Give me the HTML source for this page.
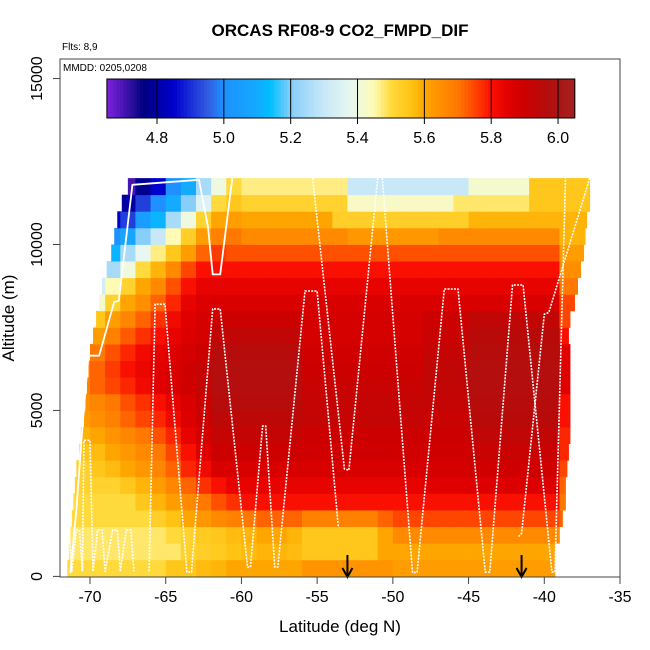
<!DOCTYPE html>
<html><head><meta charset="utf-8"><style>
html,body{margin:0;padding:0;background:#fff;}
svg{display:block;font-family:"Liberation Sans",sans-serif;}
</style></head><body>
<svg id="chart" width="650" height="650" viewBox="0 0 650 650" xmlns="http://www.w3.org/2000/svg">
<rect x="0" y="0" width="650" height="650" fill="#fff"/>
<text x="340" y="36" text-anchor="middle" font-size="17" font-weight="bold">ORCAS RF08-9 CO2_FMPD_DIF</text>
<text x="62" y="50" font-size="10">Flts: 8,9</text>
<g id="heat"></g>
<g id="track"></g>
<g id="cbar"></g>
<rect x="60" y="59" width="560" height="518" fill="none" stroke="#444" stroke-width="1"/>
<text x="63" y="71" font-size="10">MMDD: 0205,0208</text>
<g id="axes"></g>
<text x="340" y="632" text-anchor="middle" font-size="17">Latitude (deg N)</text>
<text transform="translate(14,318) rotate(-90)" text-anchor="middle" font-size="17">Altitude (m)</text>
</svg>
<script>
// ---- data ----
const colLats = [-71.5,-70.5,-69.5,-68.5,-67.5,-66.5,-65.5,-64.5,-63.5,-62.5,-61.5,-60.5,-59.5,-58.5,-57.5,-56.5,-55.5,-54.5,-53.5,-52.5,-51.5,-50.5,-49.5,-48.5,-47.5,-46.5,-45.5,-44.5,-43.5,-42.5,-41.5,-40.5,-39.5,-38.5,-37.5];
const rowAlts = [250,750,1250,1750,2250,2750,3250,3750,4250,4750,5250,5750,6250,6750,7250,7750,8250,8750,9250,9750,10250,10750,11250,11750];
const latStart = [-71.5,-71.4,-71.3,-71.2,-71.1,-71.0,-70.9,-70.7,-70.6,-70.4,-70.3,-70.2,-70.1,-70.0,-69.8,-69.6,-69.4,-69.2,-68.9,-68.6,-68.4,-68.2,-67.9,-67.5];
const latEnd = [-39.3,-39.3,-39.0,-38.8,-38.6,-38.6,-38.5,-38.4,-38.3,-38.3,-38.3,-38.3,-38.3,-38.3,-38.4,-38.3,-38.0,-37.8,-37.6,-37.4,-37.3,-37.2,-37.0,-36.9];
const grid = [
[5.5,5.5,5.5,5.5,5.5,5.5,5.5,5.55,5.55,5.57,5.58,5.6,5.6,5.6,5.6,5.6,5.64,5.64,5.64,5.64,5.64,5.64,5.62,5.62,5.62,5.62,5.62,5.62,5.62,5.62,5.62,5.62,5.62,5.62,5.62],
[5.48,5.48,5.48,5.48,5.48,5.48,5.48,5.48,5.52,5.53,5.54,5.56,5.57,5.58,5.58,5.57,5.55,5.55,5.55,5.55,5.55,5.6,5.6,5.6,5.6,5.6,5.6,5.6,5.6,5.6,5.6,5.6,5.6,5.6,5.6],
[5.48,5.48,5.48,5.48,5.48,5.48,5.48,5.5,5.52,5.54,5.55,5.57,5.58,5.6,5.6,5.58,5.55,5.55,5.55,5.55,5.55,5.6,5.66,5.66,5.66,5.66,5.66,5.66,5.66,5.66,5.66,5.66,5.66,5.66,5.66],
[5.5,5.5,5.5,5.5,5.5,5.5,5.53,5.56,5.6,5.63,5.66,5.68,5.7,5.72,5.72,5.72,5.68,5.68,5.68,5.68,5.68,5.72,5.75,5.75,5.75,5.75,5.75,5.75,5.75,5.75,5.75,5.75,5.75,5.72,5.72],
[5.5,5.5,5.5,5.5,5.5,5.55,5.58,5.62,5.66,5.7,5.74,5.77,5.8,5.8,5.8,5.8,5.8,5.8,5.8,5.8,5.8,5.8,5.8,5.8,5.8,5.8,5.8,5.8,5.8,5.8,5.8,5.8,5.8,5.7,5.7],
[5.52,5.52,5.52,5.52,5.55,5.58,5.62,5.67,5.72,5.77,5.8,5.84,5.84,5.84,5.84,5.84,5.84,5.84,5.84,5.84,5.84,5.84,5.84,5.84,5.85,5.85,5.85,5.86,5.86,5.86,5.86,5.86,5.86,5.72,5.72],
[5.52,5.52,5.55,5.57,5.6,5.63,5.67,5.72,5.78,5.82,5.87,5.87,5.87,5.87,5.87,5.87,5.87,5.87,5.87,5.87,5.87,5.87,5.87,5.87,5.88,5.88,5.88,5.89,5.89,5.89,5.89,5.89,5.89,5.75,5.75],
[5.55,5.55,5.57,5.6,5.63,5.66,5.7,5.75,5.8,5.85,5.9,5.9,5.9,5.9,5.9,5.9,5.89,5.89,5.89,5.89,5.89,5.89,5.89,5.89,5.89,5.89,5.89,5.91,5.91,5.91,5.91,5.91,5.91,5.78,5.78],
[5.58,5.58,5.6,5.64,5.67,5.7,5.74,5.78,5.84,5.88,5.92,5.92,5.92,5.92,5.92,5.92,5.9,5.9,5.9,5.9,5.9,5.9,5.9,5.9,5.9,5.9,5.9,5.93,5.93,5.93,5.93,5.93,5.93,5.78,5.78],
[5.62,5.62,5.65,5.68,5.72,5.75,5.78,5.82,5.86,5.9,5.94,5.94,5.94,5.94,5.94,5.94,5.92,5.92,5.92,5.92,5.92,5.92,5.92,5.92,5.91,5.91,5.91,5.95,5.95,5.95,5.95,5.95,5.95,5.8,5.8],
[5.65,5.65,5.67,5.7,5.74,5.77,5.8,5.84,5.87,5.9,5.96,5.96,5.96,5.96,5.96,5.96,5.92,5.92,5.92,5.92,5.92,5.92,5.92,5.92,5.92,5.92,5.92,5.96,5.96,5.96,5.96,5.96,5.96,5.8,5.8],
[5.68,5.68,5.72,5.75,5.78,5.82,5.85,5.87,5.89,5.92,5.97,5.97,5.97,5.97,5.97,5.97,5.91,5.91,5.91,5.91,5.91,5.91,5.91,5.91,5.93,5.93,5.93,5.97,5.97,5.97,5.97,5.97,5.97,5.85,5.85],
[5.68,5.68,5.72,5.76,5.8,5.83,5.85,5.87,5.89,5.92,5.97,5.97,5.97,5.97,5.97,5.97,5.9,5.9,5.9,5.9,5.9,5.9,5.9,5.9,5.93,5.93,5.93,5.97,5.97,5.97,5.97,5.97,5.97,5.85,5.85],
[5.62,5.62,5.7,5.74,5.78,5.82,5.84,5.86,5.88,5.9,5.96,5.96,5.96,5.96,5.96,5.96,5.89,5.89,5.89,5.89,5.89,5.89,5.89,5.89,5.92,5.92,5.92,5.96,5.96,5.96,5.96,5.96,5.96,5.85,5.85],
[5.6,5.6,5.62,5.68,5.73,5.77,5.8,5.84,5.86,5.88,5.93,5.93,5.93,5.93,5.93,5.93,5.88,5.88,5.88,5.88,5.88,5.88,5.88,5.88,5.91,5.91,5.91,5.95,5.95,5.95,5.95,5.95,5.95,5.8,5.8],
[5.55,5.55,5.55,5.62,5.67,5.72,5.77,5.82,5.85,5.88,5.9,5.9,5.9,5.9,5.9,5.9,5.88,5.88,5.88,5.88,5.88,5.88,5.88,5.88,5.9,5.9,5.9,5.93,5.93,5.93,5.93,5.93,5.93,5.75,5.75],
[5.42,5.42,5.42,5.52,5.6,5.65,5.72,5.78,5.84,5.86,5.87,5.87,5.87,5.87,5.87,5.87,5.87,5.87,5.87,5.87,5.87,5.87,5.87,5.87,5.87,5.87,5.87,5.87,5.87,5.87,5.87,5.87,5.87,5.75,5.75],
[5.32,5.32,5.32,5.45,5.52,5.6,5.66,5.74,5.8,5.84,5.84,5.84,5.84,5.84,5.84,5.84,5.84,5.84,5.84,5.84,5.84,5.84,5.84,5.84,5.84,5.84,5.84,5.84,5.84,5.84,5.84,5.84,5.84,5.7,5.7],
[5.25,5.25,5.25,5.25,5.4,5.5,5.58,5.66,5.75,5.8,5.8,5.8,5.8,5.8,5.8,5.8,5.8,5.8,5.8,5.8,5.8,5.8,5.8,5.8,5.8,5.8,5.8,5.8,5.8,5.8,5.8,5.8,5.8,5.65,5.65],
[5.12,5.12,5.12,5.12,5.25,5.38,5.47,5.55,5.62,5.72,5.76,5.74,5.74,5.74,5.74,5.74,5.74,5.74,5.74,5.74,5.74,5.74,5.74,5.74,5.74,5.74,5.74,5.74,5.74,5.74,5.74,5.74,5.74,5.62,5.62],
[5.0,5.0,5.0,5.0,5.08,5.2,5.3,5.45,5.53,5.62,5.68,5.7,5.66,5.66,5.66,5.66,5.66,5.66,5.66,5.63,5.63,5.63,5.63,5.63,5.63,5.66,5.66,5.66,5.66,5.66,5.66,5.66,5.66,5.58,5.58],
[4.85,4.85,4.85,4.85,4.92,5.05,5.12,5.25,5.4,5.52,5.6,5.62,5.6,5.6,5.6,5.6,5.6,5.6,5.53,5.53,5.53,5.53,5.53,5.53,5.53,5.53,5.53,5.58,5.58,5.58,5.58,5.58,5.58,5.58,5.58],
[4.8,4.8,4.8,4.8,4.8,4.92,5.0,5.1,5.2,5.35,5.5,5.55,5.52,5.52,5.52,5.52,5.52,5.52,5.52,5.43,5.43,5.43,5.43,5.43,5.43,5.43,5.48,5.48,5.48,5.48,5.48,5.55,5.55,5.55,5.55],
[4.7,4.7,4.7,4.7,4.7,4.78,4.85,5.0,5.1,5.25,5.4,5.5,5.47,5.47,5.47,5.47,5.47,5.47,5.47,5.3,5.3,5.3,5.3,5.3,5.3,5.3,5.3,5.42,5.42,5.42,5.42,5.55,5.55,5.55,5.55]
];
const xTicks = [-70,-65,-60,-55,-50,-45,-40,-35];
const yTicks = [0,5000,10000,15000];
const cbTicks = [4.8,5.0,5.2,5.4,5.6,5.8,6.0];
const arrowLats = [-53.0,-41.5];
const solidTrackLat = [-71.3,-70.9,-70.5,-70.1,-69.4,-68.4,-68.1,-67.2,-62.8,-62.2,-61.9,-61.4,-60.6];
const solidTrackAlt = [100,2000,4500,6650,6650,8270,8300,11800,11950,10500,9100,9100,12000];
const dotSeg1Lat = [-71.6,-71.4,-71.2,-70.9,-70.7,-70.5,-70.4,-70.0,-69.8,-69.5,-69.2,-69.0,-68.5,-68.2,-68.0,-67.6,-67.3,-67.1];
const dotSeg1Alt = [150,1400,150,1400,1400,150,4100,4100,150,1400,1400,150,1400,1400,150,1400,1400,150];
const dotSeg2Lat = [-66.1,-65.7,-65.05,-63.6,-63.3,-61.9,-61.4,-59.6,-59.4,-58.6,-58.4,-57.8,-57.6,-55.8,-55.0,-53.6];
const dotSeg2Alt = [150,8200,8200,130,130,8060,8060,280,280,4530,4530,280,280,8600,8600,1500];
const dotSeg3Lat = [-55.3,-53.2,-52.9,-51.0];
const dotSeg3Alt = [12000,3240,3200,12000];
const dotSeg4Lat = [-50.7,-48.7,-48.4,-46.6,-45.7,-43.9,-43.6,-42.1,-41.4,-39.5,-39.3,-38.6];
const dotSeg4Alt = [12000,120,120,8660,8660,130,130,8780,8780,130,130,12000];
const dotSeg5Lat = [-41.7,-41.5,-40.0,-39.7,-37.0];
const dotSeg5Alt = [1200,1300,7900,7950,12000];

// ---- scales ----
const NS = 'http://www.w3.org/2000/svg';
function xs(lat){ return 90 + (lat + 70) * 15.143; }
function ys(alt){ return 576.4 - alt * 0.03319; }
function cbx(v){ return 157 + (v - 4.8) * 334.2; }
const stops = [[4.65,[128,32,224]],[4.72,[48,16,160]],[4.76,[0,0,128]],[4.85,[0,0,205]],[4.95,[50,90,225]],[5.0,[30,144,255]],[5.1,[20,170,255]],[5.14,[0,191,255]],[5.2,[135,206,250]],[5.3,[200,232,248]],[5.38,[232,248,240]],[5.45,[255,250,180]],[5.5,[255,218,60]],[5.56,[255,195,20]],[5.6,[255,165,0]],[5.7,[255,120,0]],[5.75,[255,70,0]],[5.8,[250,16,0]],[5.85,[225,0,0]],[5.9,[205,0,0]],[5.95,[185,10,10]],[6.0,[172,20,20]],[6.05,[165,32,32]]];
function col(v){
  if (v <= stops[0][0]) return 'rgb(' + stops[0][1].join(',') + ')';
  for (let i = 1; i < stops.length; i++) {
    if (v <= stops[i][0]) {
      const t = (v - stops[i-1][0]) / (stops[i][0] - stops[i-1][0]);
      const a = stops[i-1][1], b = stops[i][1];
      return 'rgb(' + a.map((c,k)=>Math.round(c + (b[k]-c)*t)).join(',') + ')';
    }
  }
  return 'rgb(' + stops[stops.length-1][1].join(',') + ')';
}
function mk(tag, attrs, parent){
  const e = document.createElementNS(NS, tag);
  for (const k in attrs) e.setAttribute(k, attrs[k]);
  parent.appendChild(e);
  return e;
}

// ---- heatmap ----
const heat = document.getElementById('heat');
for (let r = 0; r < rowAlts.length; r++) {
  const yTop = ys(rowAlts[r] + 250), yBot = ys(rowAlts[r] - 250);
  for (let c = 0; c < colLats.length; c++) {
    const l = Math.max(colLats[c] - 0.5, latStart[r]);
    const rr = Math.min(colLats[c] + 0.5, latEnd[r]);
    if (rr <= l) continue;
    const e = mk('rect', {x: xs(l).toFixed(2), y: yTop.toFixed(2), width: (xs(rr) - xs(l) + 0.4).toFixed(2), height: (yBot - yTop + 0.4).toFixed(2), fill: col(grid[r][c])}, heat);
    
    
  }
}

// ---- flight track ----
const trk = document.getElementById('track');
function drawLine(lats, alts, dotted, name){
  const pts = lats.map((la,i)=> xs(la).toFixed(1) + ',' + ys(alts[i]).toFixed(1)).join(' ');
  const e = mk('polyline', {points: pts, fill: 'none', stroke: '#fff', 'stroke-width': dotted ? 1.6 : 1.8, 'stroke-dasharray': dotted ? '2,1.2' : 'none', 'stroke-linejoin': 'round'}, trk);
  
  
}
drawLine(solidTrackLat, solidTrackAlt, false, 'track-solid');
drawLine(dotSeg1Lat, dotSeg1Alt, true, 'track-segment-1');
drawLine(dotSeg2Lat, dotSeg2Alt, true, 'track-segment-2');
drawLine(dotSeg3Lat, dotSeg3Alt, true, 'track-segment-3');
drawLine(dotSeg4Lat, dotSeg4Alt, true, 'track-segment-4');
drawLine(dotSeg5Lat, dotSeg5Alt, true, 'track-segment-5');

// ---- arrows ----
arrowLats.forEach(la => {
  const x = xs(la);
  const g = mk('g', {}, trk);
  
  
  mk('line', {x1: x, y1: 555, x2: x, y2: 576, stroke: '#000', 'stroke-width': 2}, g);
  mk('polyline', {points: (x-5)+',568 '+x+',577 '+(x+5)+',568', fill: 'none', stroke: '#000', 'stroke-width': 2}, g);
});

// ---- colorbar ----
const cb = document.getElementById('cbar');
const cbN = 140;
for (let i = 0; i < cbN; i++) {
  const v0 = 4.65 + (6.05 - 4.65) * i / cbN, v1 = 4.65 + (6.05 - 4.65) * (i + 1) / cbN;
  const e = mk('rect', {x: cbx(v0).toFixed(2), y: 79, width: (cbx(v1) - cbx(v0) + 0.5).toFixed(2), height: 39, fill: col((v0 + v1) / 2)}, cb);
  
  
}
mk('rect', {x: cbx(4.65), y: 79, width: cbx(6.05) - cbx(4.65), height: 39, fill: 'none', stroke: '#000', 'stroke-width': 1}, cb);
cbTicks.forEach(t => {
  const x = cbx(t);
  mk('line', {x1: x, y1: 79, x2: x, y2: 124, stroke: '#000', 'stroke-width': 1}, cb);
  const e = mk('text', {x: x, y: 143, 'text-anchor': 'middle', 'font-size': 16}, cb);
  e.textContent = t.toFixed(1);
  
  
});

// ---- axes ----
const ax = document.getElementById('axes');
xTicks.forEach(t => {
  const x = xs(t);
  mk('line', {x1: x, y1: 577, x2: x, y2: 584, stroke: '#444', 'stroke-width': 1}, ax);
  const e = mk('text', {x: x, y: 602, 'text-anchor': 'middle', 'font-size': 16}, ax);
  e.textContent = String(t);
  
  
});
yTicks.forEach(t => {
  const y = ys(t);
  mk('line', {x1: 53, y1: y, x2: 60, y2: y, stroke: '#444', 'stroke-width': 1}, ax);
  const e = mk('text', {x: 0, y: 0, 'text-anchor': 'middle', 'font-size': 16, transform: 'translate(42,' + y.toFixed(1) + ') rotate(-90)'}, ax);
  e.textContent = String(t);
  
  
});
</script>
</body></html>
